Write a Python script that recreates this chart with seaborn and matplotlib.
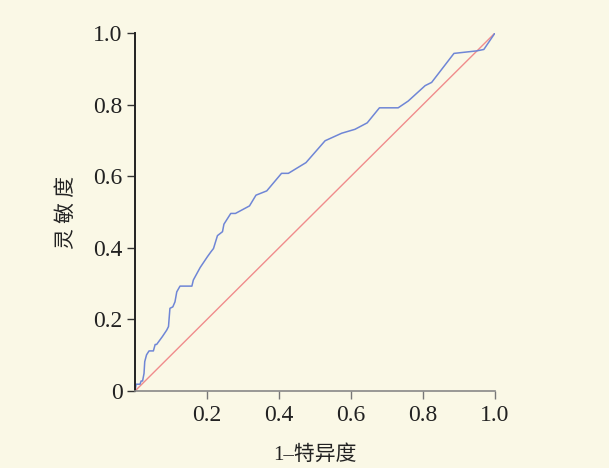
import matplotlib
matplotlib.use('Agg')
import matplotlib.pyplot as plt
import seaborn as sns
import pandas as pd

# ROC curve points
fpr = [0.0, 0.003, 0.014, 0.017, 0.021, 0.025, 0.027, 0.032, 0.039, 0.051,
       0.056, 0.060, 0.076, 0.088, 0.093, 0.097, 0.105, 0.111, 0.116, 0.125,
       0.158, 0.162, 0.181, 0.201, 0.211, 0.218, 0.229, 0.243, 0.247, 0.266,
       0.279, 0.318, 0.336, 0.366, 0.407, 0.426, 0.475, 0.528, 0.574, 0.611,
       0.645, 0.679, 0.731, 0.759, 0.806, 0.824, 0.886, 0.949, 0.969, 1.0]
tpr = [0.0, 0.019, 0.019, 0.028, 0.028, 0.049, 0.082, 0.101, 0.112, 0.112,
       0.130, 0.130, 0.152, 0.170, 0.180, 0.231, 0.235, 0.249, 0.277, 0.293,
       0.293, 0.310, 0.345, 0.375, 0.389, 0.398, 0.434, 0.445, 0.466, 0.496,
       0.496, 0.517, 0.547, 0.559, 0.608, 0.608, 0.638, 0.699, 0.720, 0.731,
       0.749, 0.791, 0.791, 0.810, 0.853, 0.862, 0.943, 0.950, 0.954, 1.0]
diag = [0.0, 1.0]

x_ticks = [0.2, 0.4, 0.6, 0.8, 1.0]
x_tick_labels = ['0.2', '0.4', '0.6', '0.8', '1.0']
y_ticks = [0.0, 0.2, 0.4, 0.6, 0.8, 1.0]
y_tick_labels = ['0', '0.2', '0.4', '0.6', '0.8', '1.0']

BG = '#faf8e6'

sns.set_style('ticks')
plt.rcParams['font.family'] = ['Liberation Serif', 'Noto Sans CJK SC']
plt.rcParams['axes.unicode_minus'] = False

fig = plt.figure(figsize=(6.09, 4.68), dpi=100, facecolor=BG)
ax = fig.add_axes([0.2217, 0.1645, 0.5911, 0.765])
ax.set_facecolor(BG)

roc = pd.DataFrame({'fpr': fpr, 'tpr': tpr})
ref = pd.DataFrame({'x': diag, 'y': diag})
sns.lineplot(data=ref, x='x', y='y', ax=ax, color='#f08c8c', linewidth=1.0)
sns.lineplot(data=roc, x='fpr', y='tpr', ax=ax, color='#6f86d6',
             linewidth=1.1, sort=False, estimator=None)

ax.set_xlim(0, 1)
ax.set_ylim(0, 1)
ax.set_xticks(x_ticks)
ax.set_xticklabels(x_tick_labels)
ax.set_yticks(y_ticks)
ax.set_yticklabels(y_tick_labels)
ax.tick_params(axis='both', labelsize=17, length=6, width=1.0, color='#333333',
               labelcolor='#222222', direction='out')
ax.tick_params(axis='x', pad=4, color='#777777')
ax.tick_params(axis='y', pad=3)

for side in ['top', 'right']:
    ax.spines[side].set_visible(False)
ax.spines['left'].set_color('#222222')
ax.spines['left'].set_linewidth(1.4)
ax.spines['bottom'].set_color('#888888')
ax.spines['bottom'].set_linewidth(1.2)

ax.set_xlabel('1–特异度', fontsize=15, color='#222222', labelpad=14)
ax.set_ylabel('灵 敏 度', fontsize=15, color='#222222', labelpad=12)

fig.savefig('out.png', dpi=100, facecolor=BG)
